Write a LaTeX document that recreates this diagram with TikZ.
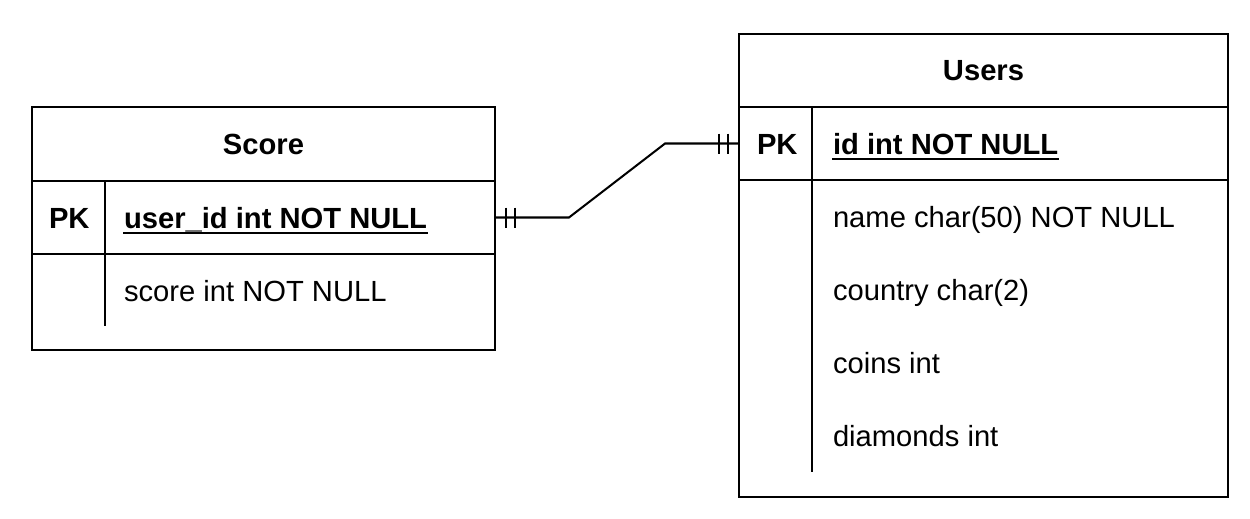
\documentclass[tikz,border=0pt]{standalone}
\usepackage{fontspec}
\setmainfont{Liberation Sans}
\newcommand{\erfont}{\fontsize{16.6}{19}\selectfont}
\begin{document}
\begin{tikzpicture}[
		x=0.02cm, y=-0.02cm,
		line width=1.15pt,
		every node/.style={font=\erfont, inner sep=0pt},
		tablebox/.style={draw, rectangle, font=\erfont\bfseries},
		field/.style={anchor=base west},
		keyfield/.style={anchor=base west, font=\erfont\bfseries}]
		
		\useasboundingbox (0,0) rectangle (1250,518);
		
		% Score
		\node[tablebox, minimum width=9.26cm, minimum height=1.48cm] (scorehead) at (263.5,144) {Score};
		\node[tablebox, minimum width=9.26cm, minimum height=1.46cm] (scorepkrow) at (263.5,217.5) {};
		\node[tablebox, minimum width=9.26cm, minimum height=1.92cm] (scorebody) at (263.5,302) {};
		\draw (105,181) -- (105,326);
		\node[keyfield] (scorepk) at (48,228) {PK};
		\node[keyfield] (scoreuserid) at (123,228) {user\_id int NOT NULL};
		\node[field] (scorescore) at (123,301) {score int NOT NULL};
		\draw ([yshift=-2.8pt]scoreuserid.base west) -- ([yshift=-2.8pt]scoreuserid.base east);
		
		% Users
		\node[tablebox, minimum width=9.78cm, minimum height=1.46cm] (usershead) at (983.5,70.5) {Users};
		\node[tablebox, minimum width=9.78cm, minimum height=1.46cm] (userspkrow) at (983.5,143.5) {};
		\node[tablebox, minimum width=9.78cm, minimum height=6.34cm] (usersbody) at (983.5,338.5) {};
		\draw (812,107) -- (812,472);
		\node[keyfield] (userspk) at (756,154) {PK};
		\node[keyfield] (usersid) at (832,154) {id int NOT NULL};
		\node[field] (usersname) at (832,227) {name char(50) NOT NULL};
		\node[field] (userscountry) at (832,300) {country char(2)};
		\node[field] (userscoins) at (832,373) {coins int};
		\node[field] (usersdiamonds) at (832,446) {diamonds int};
		\draw ([yshift=-2.8pt]usersid.base west) -- ([yshift=-2.8pt]usersid.base east);
		
		% one to one
		\draw (scorepkrow.east) -- ++(73,0) -- ([xshift=-1.46cm]userspkrow.west) -- (userspkrow.west);
		\foreach \d in {10,19} {
			\draw ([xshift=\d*0.02cm]scorepkrow.east) ++(0,-10) -- ++(0,20);
			\draw ([xshift=-\d*0.02cm]userspkrow.west) ++(0,-10) -- ++(0,20);
		}
		
	\end{tikzpicture}
\end{document}
